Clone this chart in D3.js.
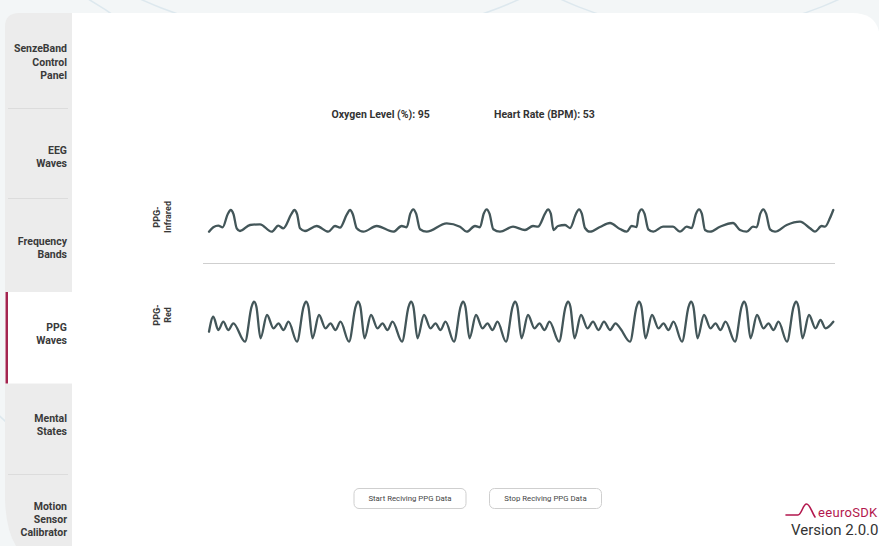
<!DOCTYPE html>
<html>
<head>
<meta charset="utf-8">
<script src="https://cdn.jsdelivr.net/npm/d3@7"></script>
<style>
  html, body { margin: 0; padding: 0; background: #f3f6f7; }
  svg { display: block; font-family: Roboto, "Noto Sans", sans-serif; }
</style>
</head>
<body>
<svg id="chart" width="879" height="546"></svg>
<script>
// ---------------- DATA ----------------
const tabLabels = [
  ["SenzeBand", "Control", "Panel"],
  ["EEG", "Waves"],
  ["Frequency", "Bands"],
  ["PPG", "Waves"],
  ["Mental", "States"],
  ["Motion", "Sensor", "Calibrator"]
];
const activeTab = 3;
const oxygenLevel = 95;
const heartRate = 53;
const seriesNames = [["PPG-", "Infrared"], ["PPG-", "Red"]];
const buttonLabels = ["Start Reciving PPG Data", "Stop Reciving PPG Data"];
const logoText = "eeuroSDK";
const versionLabel = "Version 2.0.0";

// [time sample, amplitude]
const ppgInfrared = [
  [0,0],[4.3,4.4],[9.3,6],[13.7,4.4],[18.7,17.5],[21.7,21.7],[24.5,17.5],[27.7,3.4],[31,0.7],[41,6.7],[51,7.4],[62.7,0],
  [69.3,6],[74.3,3.4],[82.3,17.5],[85.3,21.7],[88.1,17.5],[91,3.4],[96,0.7],[107.7,5.7],[119.3,0],[126,5.7],[131,4],
  [138,17.5],[141,21.7],[143.8,17.5],[147.7,3.4],[154.3,0],[167.7,5.7],[184.3,0],[192.7,5.7],[197.7,4.4],[201.3,18],[204.3,22.4],[207.1,18],
  [211,2.4],[217.7,0],[237.7,8.4],[251,5],[257.7,0],[266,5.7],[271,4.4],[274.7,18],[277.7,22.4],[280.5,18],[284.3,2.4],
  [291,0],[304,5],[316,1.7],[324,5.7],[329,5],[336,18],[339,22.4],[341.8,18],[344.5,1.7],[349,5.7],[356,6.7],[361,3.7],
  [367,18],[370,22.4],[372.8,18],[376,3.7],[381,0],[391,4.7],[401,8.7],[411,2.7],[417.7,0],[422.7,5.7],[427.7,4.7],
  [429.7,18],[432.7,22.4],[435.5,18],[439.3,2.4],[444.3,0],[454,5],[464,5],[471,0],[477.7,5],[482.7,3.7],[487,18],[490,22.4],[492.8,18],
  [496,1.7],[501,0],[511,5],[524,8.7],[531,1.7],[537.7,0],[544,5],[547.7,4.4],[551.3,18],[554.3,22.4],[557.1,18],
  [561,2.4],[566,0],[577.7,6.7],[591,10],[601,3.4],[606,0],[612.7,5.7],[616,5],[621,13.7],[624.3,21.7]
];
const ppgRed = [
  [0,10],[4.3,25],[9.3,11.7],[14.3,20],[19.3,11.7],[24.3,18.4],[36,0],
  [42.6,35],[45,40],[47.4,35],[51.5,3.4],[58,26.7],[64.5,13.4],[69.5,18.4],[74.5,11.7],[79.5,20],[88,0],
  [94.6,35],[97,40],[99.4,35],[103.5,3.4],[110,26.7],[116.5,13.4],[121.5,18.4],[126.5,11.7],[131.5,20],[140,0],
  [146.6,35],[149,40],[151.4,35],[155.5,3.4],[162,26.7],[168.5,13.4],[173.5,18.4],[178.5,11.7],[183.5,20],[193,0],
  [199.6,35],[202,40],[204.4,35],[208.5,3.4],[215,26.7],[221.5,13.4],[226.5,18.4],[231.5,11.7],[236.5,20],[245,0],
  [251.6,35],[254,40],[256.4,35],[260.5,3.4],[267,26.7],[273.5,13.4],[278.5,18.4],[283.5,11.7],[288.5,20],[297,0],
  [303.6,35],[306,40],[308.4,35],[312.5,3.4],[319,26.7],[325.5,13.4],[330.5,18.4],[335.5,11.7],[340.5,20],[350,0],
  [356.6,35],[359,40],[361.4,35],[365.5,3.4],[372,26.7],[378.5,13.4],[384,20],[389.5,11.7],[395,20],[401,11.7],[406.5,18.4],[411.5,13],[421,0],
  [427.6,35],[430,40],[432.4,35],[436.5,3.4],[443,26.7],[449.5,13.4],[454.5,18.4],[459.5,11.7],[464.5,20],[473,0],
  [479.6,35],[482,40],[484.4,35],[488.5,3.4],[495,26.7],[501.5,13.4],[506.5,18.4],[511.5,11.7],[516.5,20],[526,0],
  [532.6,35],[535,40],[537.4,35],[541.5,3.4],[548,26.7],[554.5,13.4],[559.5,18.4],[564.5,11.7],[569.5,20],[578,0],
  [584.6,35],[587,40],[589.4,35],[593.5,3.4],[600,26.7],[606.5,13.4],[611.5,21.7],[616.5,13.4],[624.3,20]
];

// ---------------- DRAW ----------------
const svg = d3.select("#chart");
const W = 879, H = 546;

// background decorative curves
const bg = svg.append("g");
bg.append("rect").attr("width", W).attr("height", H).attr("fill", "#f3f6f7");
const deco = [[-60, 260, 300], [330, -420, 460], [700, -300, 330], [560, 700, 420], [-200, 640, 300], [1080, 200, 260]];
bg.selectAll("circle").data(deco).join("circle")
  .attr("cx", d => d[0]).attr("cy", d => d[1]).attr("r", d => d[2])
  .attr("fill", "none").attr("stroke", "#dde8ee").attr("stroke-width", 1.5);

// white main panel
svg.append("path")
  .attr("d", "M40,13 H852 Q880,13 880,41 V546 H40 Z")
  .attr("fill", "#ffffff");

// sidebar tabs
const tabBounds = [[13, 108.5], [108.5, 198.5], [198.5, 291], [291, 383.5], [383.5, 474.5], [474.5, 546]];
const side = svg.append("g");
side.append("path")
  .attr("d", "M72,13 V546 H16 Q6,530 5,500 V27 Q5,13 19,13 Z")
  .attr("fill", "#ececec");
side.append("rect").attr("x", 5).attr("y", tabBounds[activeTab][0] + 1)
  .attr("width", 67).attr("height", tabBounds[activeTab][1] - tabBounds[activeTab][0] - 1)
  .attr("fill", "#ffffff");
side.append("rect").attr("x", 5.5).attr("y", tabBounds[activeTab][0] + 1)
  .attr("width", 2.5).attr("height", tabBounds[activeTab][1] - tabBounds[activeTab][0] - 1)
  .attr("fill", "#a3244f");
[0, 1, 4].forEach(i => {
  side.append("line").attr("x1", 8).attr("x2", 68)
    .attr("y1", tabBounds[i][1]).attr("y2", tabBounds[i][1])
    .attr("stroke", "#dcdcdc").attr("stroke-width", 1);
});
const tabCenters = [62, 157, 248, 333.5, 425, 519.5];
tabLabels.forEach((lines, i) => {
  const t = side.append("text").attr("text-anchor", "end")
    .attr("font-size", 10.5).attr("font-weight", "bold").attr("fill", "#3a3a3a");
  const y0 = tabCenters[i] - (lines.length - 1) * 13.3 / 2;
  lines.forEach((l, j) => {
    t.append("tspan").attr("x", 67).attr("y", y0 + j * 13.3).attr("dy", "0.35em").text(l);
  });
});

// header stats
svg.append("text").attr("x", 331.5).attr("y", 114.5).attr("dy", "0.35em")
  .attr("font-size", 10.5).attr("font-weight", "bold").attr("fill", "#333")
  .text(`Oxygen Level (%): ${oxygenLevel}`);
svg.append("text").attr("x", 494).attr("y", 114.5).attr("dy", "0.35em")
  .attr("font-size", 10.5).attr("font-weight", "bold").attr("fill", "#333")
  .text(`Heart Rate (BPM): ${heartRate}`);

// scales
const x = d3.scaleLinear().domain([0, 624.3]).range([209, 833.3]);
const yIR = d3.scaleLinear().domain([0, 22.4]).range([231.7, 209.3]);
const yRed = d3.scaleLinear().domain([0, 40]).range([341.7, 301.7]);

const lineIR = d3.line().x(d => x(d[0])).y(d => yIR(d[1])).curve(d3.curveMonotoneX);
const lineRed = d3.line().x(d => x(d[0])).y(d => yRed(d[1])).curve(d3.curveMonotoneX);

[[ppgInfrared, lineIR], [ppgRed, lineRed]].forEach(([data, gen]) => {
  svg.append("path").datum(data).attr("d", gen)
    .attr("fill", "none").attr("stroke", "#435659").attr("stroke-width", 2.3)
    .attr("stroke-linejoin", "round").attr("stroke-linecap", "round");
});

// separator
svg.append("line").attr("x1", 203).attr("x2", 835).attr("y1", 263.5).attr("y2", 263.5)
  .attr("stroke", "#cfcfcf").attr("stroke-width", 1);

// series labels (rotated)
const labelCenters = [217, 315];
seriesNames.forEach((lines, i) => {
  const g = svg.append("g").attr("transform", `translate(162,${labelCenters[i]}) rotate(-90)`);
  const t = g.append("text").attr("text-anchor", "middle")
    .attr("font-size", 9).attr("font-weight", "bold").attr("fill", "#383838");
  lines.forEach((l, j) => {
    t.append("tspan").attr("x", 0).attr("y", -5.5 + j * 11).attr("dy", "0.35em").text(l);
  });
});

// buttons
const btnX = [354, 489.5];
buttonLabels.forEach((b, i) => {
  svg.append("rect").attr("x", btnX[i]).attr("y", 488.5).attr("width", 112).attr("height", 20)
    .attr("rx", 5).attr("fill", "#fff").attr("stroke", "#cfcfcf").attr("stroke-width", 1);
  svg.append("text").attr("x", btnX[i] + 56).attr("y", 498.5).attr("dy", "0.35em")
    .attr("text-anchor", "middle").attr("font-size", 7.8).attr("fill", "#444").text(b);
});

// logo
svg.append("path")
  .attr("d", "M786,515 H798 C801.5,515 803,504 806.5,504 C810,504 811.5,512 815,517")
  .attr("fill", "none").attr("stroke", "#b3174d").attr("stroke-width", 1.6).attr("stroke-linecap", "round");
svg.append("text").attr("x", 877.5).attr("y", 517).attr("text-anchor", "end")
  .attr("font-size", 13).attr("fill", "#b3174d").attr("letter-spacing", 0.3).text(logoText);
svg.append("text").attr("x", 878.5).attr("y", 534.5).attr("text-anchor", "end")
  .attr("font-size", 15).attr("fill", "#333").text(versionLabel);
</script>
</body>
</html>
